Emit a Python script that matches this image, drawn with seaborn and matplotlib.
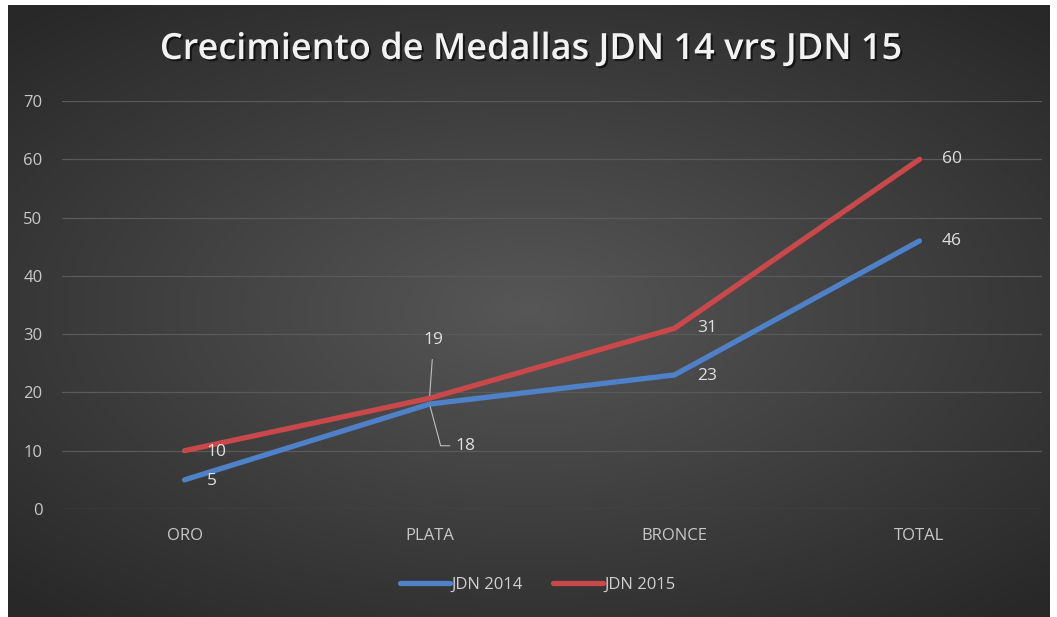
import numpy as np
import pandas as pd
import matplotlib
matplotlib.use("Agg")
import matplotlib.pyplot as plt
import matplotlib.patheffects as pe
import seaborn as sns

categories = ["ORO", "PLATA", "BRONCE", "TOTAL"]
jdn_2014 = [5, 18, 23, 46]
jdn_2015 = [10, 19, 31, 60]
series_names = ["JDN 2014", "JDN 2015"]
y_ticks = [0, 10, 20, 30, 40, 50, 60, 70]

colors = {"JDN 2014": "#4F81C9", "JDN 2015": "#C9484A"}

df = pd.DataFrame({
    "cat": categories * 2,
    "val": jdn_2014 + jdn_2015,
    "serie": [series_names[0]] * 4 + [series_names[1]] * 4,
})

sns.set_style("white")
plt.rcParams["font.family"] = ["Open Sans", "DejaVu Sans"]

fig = plt.figure(figsize=(10.57, 6.17), dpi=100)
fig.patch.set_facecolor("white")

# dark radial gradient background
bg = fig.add_axes([8 / 1057, 0, 1042 / 1057, 612 / 617])
yy, xx = np.mgrid[-1:1:300j, -1:1:500j]
r = np.sqrt((xx * 0.95) ** 2 + (yy * 1.05) ** 2)
grad = 0.34 - 0.18 * np.clip(r / 1.35, 0, 1)
bg.imshow(np.dstack([grad] * 3), aspect="auto", extent=[0, 1, 0, 1], interpolation="bicubic")
bg.axis("off")

ax = fig.add_axes([62 / 1057, 108 / 617, 980 / 1057, 408 / 617])
ax.patch.set_alpha(0)

sns.lineplot(data=df, x="cat", y="val", hue="serie", palette=colors, linewidth=3.8,
             ax=ax, sort=False, legend=True, solid_capstyle="round")

ax.set_xlim(-0.5, 3.5)
ax.set_ylim(0, 70)
ax.set_yticks(y_ticks)
ax.grid(axis="y", color="#5a5a5a", linewidth=0.9)
ax.set_axisbelow(True)
for s in ax.spines.values():
    s.set_visible(False)
ax.tick_params(length=0, colors="#c8c8c8", labelsize=12)
ax.tick_params(axis="x", pad=14)
ax.tick_params(axis="y", pad=14)
ax.set_xlabel("")
ax.set_ylabel("")

lbl = dict(color="#e0e0e0", fontsize=12.5, va="center", ha="left")
# JDN 2014 labels
ax.annotate("5", (0, 5), xytext=(16, -1), textcoords="offset points", **lbl)
ax.annotate("23", (2, 23), xytext=(16, -1), textcoords="offset points", **lbl)
ax.annotate("46", (3, 46), xytext=(16, 0), textcoords="offset points", **lbl)
ax.annotate("18", (1, 18), xytext=(19, -30), textcoords="offset points",
            arrowprops=dict(arrowstyle="-", color="#bfbfbf", lw=0.8, shrinkA=2, shrinkB=2,
                            connectionstyle="angle,angleA=0,angleB=105,rad=0"),
            **lbl)
# JDN 2015 labels
ax.annotate("10", (0, 10), xytext=(16, -1), textcoords="offset points", **lbl)
ax.annotate("31", (2, 31), xytext=(16, 0), textcoords="offset points", **lbl)
ax.annotate("60", (3, 60), xytext=(16, 0), textcoords="offset points", **lbl)
ax.annotate("19", (1, 19), xytext=(3, 42), textcoords="offset points",
            arrowprops=dict(arrowstyle="-", color="#bfbfbf", lw=0.8, shrinkA=6, shrinkB=2),
            color="#e0e0e0", fontsize=12.5, va="center", ha="center")

handles, labels = ax.get_legend_handles_labels()
ax.legend(handles, labels, loc="center", bbox_to_anchor=(538 / 1057, 32 / 617),
          bbox_transform=fig.transFigure, ncol=2, frameon=False, fontsize=12,
          labelcolor="#d0d0d0", handlelength=3.0, handletextpad=0.1, columnspacing=1.8)

fig.text(531 / 1057, 567 / 617, "Crecimiento de Medallas JDN 14 vrs JDN 15",
         ha="center", va="center", color="#f2f2f2", fontsize=26, fontweight="semibold",
         path_effects=[pe.withSimplePatchShadow(offset=(1.5, -1.5), shadow_rgbFace="black", alpha=0.6)])

fig.savefig("out.png", dpi=100, facecolor=fig.get_facecolor())
